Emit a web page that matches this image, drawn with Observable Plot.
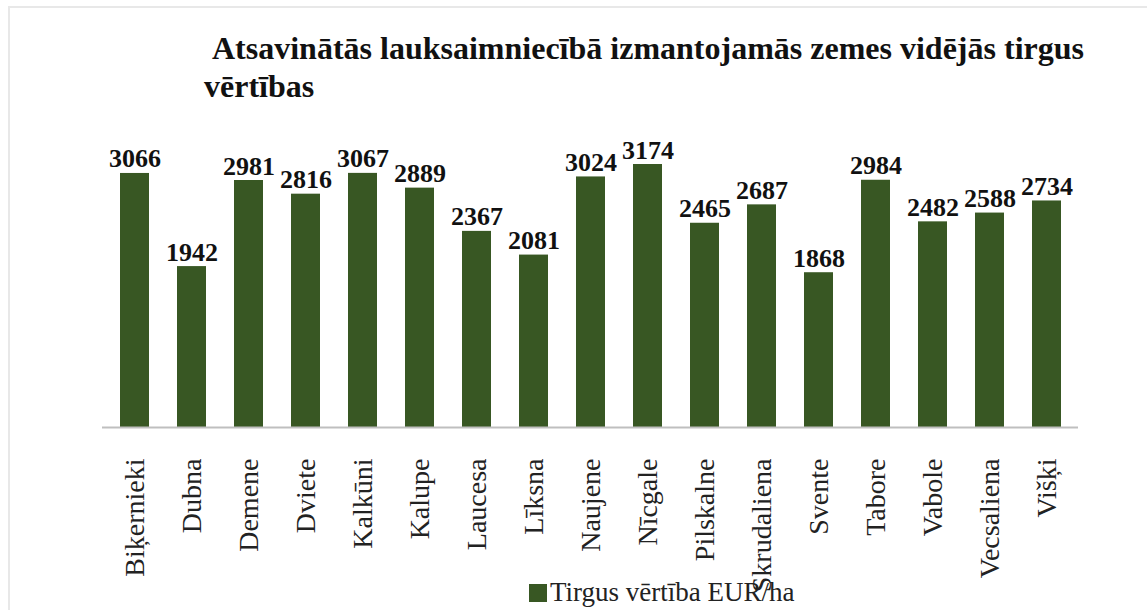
<!DOCTYPE html>
<html>
<head>
<meta charset="utf-8">
<script src="https://cdn.jsdelivr.net/npm/d3@7"></script>
<script src="https://cdn.jsdelivr.net/npm/@observablehq/plot@0.6"></script>
<style>
  html, body { margin: 0; padding: 0; background: #fff; }
  body { width: 1147px; height: 610px; position: relative; overflow: hidden; font-family: 'Liberation Serif', serif; }
  #frame { position: absolute; left: 8px; top: 6px; right: 0; bottom: 0; border-left: 2px solid #e8e8e8; border-top: 2px solid #e8e8e8; }
  #title { position: absolute; left: 204px; top: 29px; font-family: 'Liberation Serif', serif; font-weight: bold; font-size: 32px; line-height: 38px; color: #111; white-space: nowrap; }
  #chart { position: absolute; left: 0; top: 100px; }
  #legend { position: absolute; left: 529px; top: 577px; font-family: 'Liberation Serif', serif; font-size: 27px; color: #222; display: flex; align-items: center; white-space: nowrap; }
  #legend .sw { width: 18px; height: 18px; background: #385723; margin-right: 3px; }
  #chart svg text { font-family: 'Liberation Serif', serif; }
</style>
</head>
<body>
<div id="frame"></div>
<div id="title">&nbsp;Atsavinātās lauksaimniecībā izmantojamās zemes vidējās tirgus<br>vērtības</div>
<div id="chart"></div>
<div id="legend"><span class="sw"></span><span id="legendLabel"></span></div>
<script>
const categories = ["Biķernieki", "Dubna", "Demene", "Dviete", "Kalkūni", "Kalupe", "Laucesa", "Līksna", "Naujene", "Nīcgale", "Pilskalne", "Skrudaliena", "Svente", "Tabore", "Vabole", "Vecsaliena", "Višķi"];
const values = [3066, 1942, 2981, 2816, 3067, 2889, 2367, 2081, 3024, 3174, 2465, 2687, 1868, 2984, 2482, 2588, 2734];
const seriesName = "Tirgus vērtība EUR/ha";

const data = categories.map((c, i) => ({name: c, value: values[i]}));
document.getElementById("legendLabel").textContent = seriesName;

const chart = Plot.plot({
  width: 1147,
  height: 510,
  marginLeft: 102,
  marginRight: 69,
  marginTop: 37,
  marginBottom: 183,
  style: {fontFamily: "'Liberation Serif', serif", background: "transparent"},
  x: {domain: categories, paddingInner: 0.5, paddingOuter: 0.25, label: null},
  y: {domain: [0, 3500], axis: null},
  marks: [
    Plot.barY(data, {x: "name", y: "value", fill: "#385723"}),
    Plot.ruleY([0], {stroke: "#bfbfbf", strokeWidth: 2}),
    Plot.text(data, {x: "name", y: "value", text: d => String(d.value), dy: -6, lineAnchor: "bottom", fontSize: 26, fontWeight: "bold", fill: "#111"}),
    Plot.axisX({tickRotate: -90, tickSize: 0, tickPadding: 31, fontSize: 28, label: null, fill: "#222"})
  ]
});
document.getElementById("chart").appendChild(chart);
</script>
</body>
</html>
